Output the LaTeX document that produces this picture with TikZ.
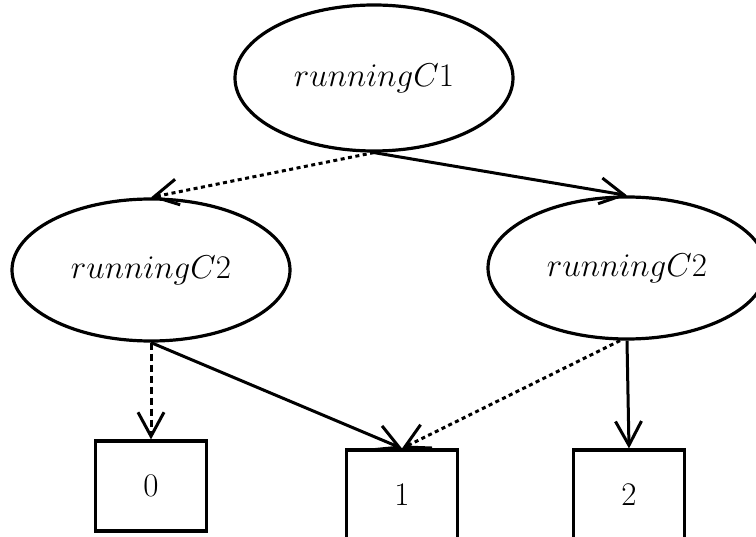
\RequirePackage{fix-cm}
\documentclass[tikz,border=0pt]{standalone}
\usetikzlibrary{shapes.geometric,arrows.meta}
\begin{document}
\begin{tikzpicture}[x=1pt,y=-1pt,
  every node/.style={font=\fontsize{33}{40}\selectfont},
  state/.style={ellipse,draw,line width=3.2pt,minimum width=278pt,minimum height=146pt,inner sep=0pt},
  leaf/.style={rectangle,draw,line width=3.2pt,minimum width=111pt,minimum height=90pt,inner sep=0pt},
  edge/.style={line width=3pt,-{Straight Barb[length=24pt,width=26pt,line width=3pt]}},
  dotline/.style={edge,dash pattern=on 4pt off 3.5pt},
  dashline/.style={edge,dash pattern=on 7pt off 4pt}]
\useasboundingbox (0,0) rectangle (756,537);
% decision nodes
\node[state] (c1) at (374,78) {$runningC1$};
\node[state,minimum height=142pt] (l) at (151,270) {$runningC2$};
\node[state,minimum height=142pt] (r) at (627,268) {$runningC2$};
% terminal boxes
\node[leaf] (t0) at (151,486) {$0$};
\node[leaf] (t1) at (402,495) {$1$};
\node[leaf] (t2) at (629,495) {$2$};
% edges
\draw[dotline] (c1.south) -- (l.north);
\draw[edge] (c1.south) -- (r.north);
\draw[dashline] (l.south) -- (t0.north);
\draw[edge] (l.south) -- (t1.north);
\draw[dotline] ([xshift=-7pt]r.south) -- (t1.north);
\draw[edge] (r.south) -- (t2.north);
\end{tikzpicture}
\end{document}
